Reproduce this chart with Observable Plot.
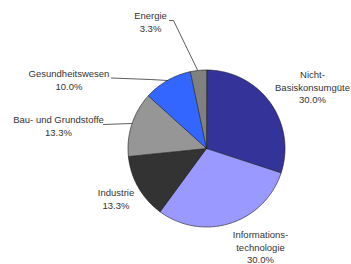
<!DOCTYPE html>
<html>
<head>
<meta charset="utf-8">
<script src="https://cdn.jsdelivr.net/npm/d3@7"></script>
<script src="https://cdn.jsdelivr.net/npm/@observablehq/plot@0.6"></script>
<style>
  html, body { margin: 0; padding: 0; background: #fff; }
  svg { display: block; }
</style>
</head>
<body>
<div id="chart"></div>
<script>
// Data
const categories = ["Nicht-\nBasiskonsumgüte", "Informations-\ntechnologie", "Industrie", "Bau- und Grundstoffe", "Gesundheitswesen", "Energie"];
const values = [30.0, 30.0, 13.3, 13.3, 10.0, 3.3];
const percentLabels = ["30.0%", "30.0%", "13.3%", "13.3%", "10.0%", "3.3%"];
const colors = ["#333399", "#9999ff", "#333333", "#969696", "#3366ff", "#808080"];

// Layout (pixel space of the chart)
const W = 351, H = 264;
const cx = 206, cy = 148, R = 78.5;
const labelAnchors = [[312, 86], [260, 246], [115.5, 198], [58, 124.5], [68.5, 78.5], [150, 21]];
const leaders = [
  {cat: "Energie", pts: [[169, 20], [173, 20], [197, 69.5]]},
  {cat: "Gesundheitswesen", pts: [[111, 77.5], [150, 79], [167, 80]]},
  {cat: "Bau- und Grundstoffe", pts: [[103, 124], [131, 123]]}
];

const arcs = d3.pie().sort(null).startAngle(0).endAngle(2 * Math.PI)(values);
const slicePts = [];
arcs.forEach((a, i) => {
  const cat = categories[i];
  slicePts.push({cat, x: cx, y: cy});
  const n = Math.max(2, Math.ceil((a.endAngle - a.startAngle) / (Math.PI / 180)));
  for (let k = 0; k <= n; k++) {
    const t = a.startAngle + (a.endAngle - a.startAngle) * k / n;
    slicePts.push({cat, x: cx + R * Math.sin(t), y: cy - R * Math.cos(t)});
  }
});

const labels = categories.map((c, i) => ({
  text: c + "\n" + percentLabels[i],
  x: labelAnchors[i][0],
  y: labelAnchors[i][1]
}));

const leaderPts = leaders.flatMap(l => l.pts.map(p => ({cat: l.cat, x: p[0], y: p[1]})));

const chart = Plot.plot({
  width: W,
  height: H,
  margin: 0,
  style: {fontFamily: "'Liberation Sans', Arial, sans-serif", background: "#fff"},
  x: {domain: [0, W], range: [0, W], axis: null},
  y: {domain: [0, H], range: [0, H], axis: null},
  color: {domain: categories, range: colors},
  marks: [
    Plot.line(slicePts, {x: "x", y: "y", z: "cat", fill: "cat", stroke: "#1a1a1a", strokeWidth: 0.6, curve: "linear-closed"}),
    Plot.line(leaderPts, {x: "x", y: "y", z: "cat", stroke: "#333", strokeWidth: 0.8}),
    Plot.text(labels, {x: "x", y: "y", text: "text", fontSize: 9.5, lineHeight: 1.35, fill: "#333", textAnchor: "middle"})
  ]
});
document.getElementById("chart").appendChild(chart);
</script>
</body>
</html>
